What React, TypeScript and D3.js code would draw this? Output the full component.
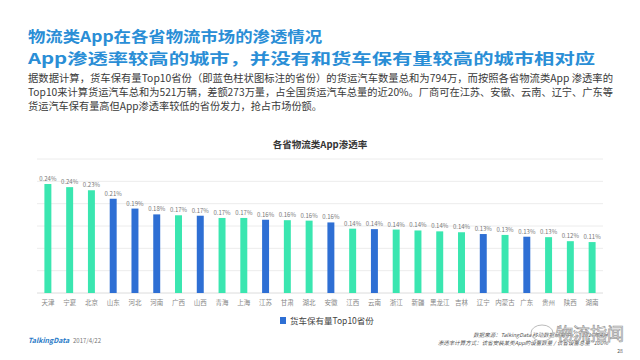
import React from 'react';
import * as d3 from 'd3';

const provinces = ['天津', '宁夏', '北京', '山东', '河北', '河南', '广西', '山西', '青海', '上海', '江苏', '甘肃', '湖北', '安徽',
    '江西', '云南', '浙江', '新疆', '黑龙江', '吉林', '辽宁', '内蒙古', '广东', '贵州', '陕西', '湖南'];
const rates = [0.244, 0.237, 0.230, 0.211, 0.189, 0.176, 0.174, 0.173, 0.168, 0.168, 0.164, 0.163, 0.162, 0.158,
    0.144, 0.143, 0.142, 0.140, 0.138, 0.136, 0.132, 0.130, 0.126, 0.125, 0.116, 0.114];
const top10Provinces = ['山东', '河北', '河南', '山西', '江苏', '安徽', '云南', '辽宁', '广东'];

const titleLines = ['物流类App在各省物流市场的渗透情况', 'App渗透率较高的城市，并没有和货车保有量较高的城市相对应'];
const paragraphLines = [
    '据数据计算，货车保有量Top10省份（即蓝色柱状图标注的省份）的货运汽车数量总和为794万，而按照各省物流类App 渗透率的',
    'Top10来计算货运汽车总和为521万辆，差额273万量，占全国货运汽车总量的近20%。厂商可在江苏、安徽、云南、辽宁、广东等',
    '货运汽车保有量高但App渗透率较低的省份发力，抢占市场份额。'
];
const chartTitle = '各省物流类App渗透率';
const legendLabel = '货车保有量Top10省份';
const sourceLines = ['数据来源：TalkingData 移动数据研究中心，2017年4月', '渗透率计算方式：该省安装某类App的设备数量 / 该省设备总量 *100%'];

const FONT = '"Noto Sans CJK SC", "Noto Sans", sans-serif';
const GREEN = '#3ae6b0';
const BLUE = '#2e6fd4';

const App: React.FC = () => {
    const margin = { left: 37, right: 37, top: 159, bottom: 293 };

    const x = d3.scaleBand<string>()
        .domain(provinces)
        .range([margin.left, 640 - margin.right])
        .paddingInner(0.68)
        .paddingOuter(0.34);

    const y = d3.scaleLinear()
        .domain([0, 0.3])
        .range([margin.bottom, margin.top]);

    const fmt = d3.format('.2f');

    return (
        <svg width={640} height={360} style={{ position: 'absolute', left: 0, top: 0, background: '#fff' }} fontFamily={FONT}>
            {/* titles */}
            <text x={28} y={42} fontSize={15} fontWeight={700} fill="#2a8ed6" textLength={294} lengthAdjust="spacingAndGlyphs">{titleLines[0]}</text>
            <text x={28} y={64} fontSize={15} fontWeight={700} fill="#2a8ed6" textLength={567} lengthAdjust="spacingAndGlyphs">{titleLines[1]}</text>

            {paragraphLines.map((line, i) => (
                <text key={i} x={28} y={82 + i * 14} fontSize={10} fill="#3a3a3a"
                    textLength={i < 2 ? 585 : 294} lengthAdjust="spacingAndGlyphs">{line}</text>
            ))}

            <text x={320} y={148} fontSize={9.5} fontWeight={700} fill="#333" textAnchor="middle">{chartTitle}</text>

            {/* grid */}
            {y.ticks(6).map(t => (
                <line key={t} x1={margin.left} x2={640 - margin.right} y1={y(t)} y2={y(t)}
                    stroke={t === 0 ? '#dcdcdc' : '#ececec'} strokeWidth={1} />
            ))}

            {/* bars */}
            {provinces.map((p, i) => {
                const bx = x(p)!;
                const top = y(rates[i]);
                return (
                    <g key={p}>
                        <rect x={bx} y={top} width={x.bandwidth()} height={y(0) - top}
                            fill={top10Provinces.includes(p) ? BLUE : GREEN} />
                        <text x={bx + x.bandwidth() / 2} y={top - 3} fontSize={6} fill="#777" textAnchor="middle">
                            {fmt(rates[i])}%
                        </text>
                        <text x={bx + x.bandwidth() / 2} y={305} fontSize={6.5} fill="#888" textAnchor="middle">{p}</text>
                    </g>
                );
            })}

            {/* legend */}
            <rect x={280} y={317} width={6} height={7} fill={BLUE} />
            <text x={290} y={324} fontSize={8.5} fill="#444">{legendLabel}</text>

            {/* footer */}
            <text x={28} y={343} fontSize={7} fontWeight={700} fontStyle="italic" fill="#2b7bc8">TalkingData</text>
            <text x={73} y={343} fontSize={6} fill="#777">2017/4/22</text>
            {sourceLines.map((line, i) => (
                <text key={i} x={608} y={337 + i * 8} fontSize={5.5} fontStyle="italic" fill="#555" textAnchor="end">{line}</text>
            ))}
            <text x={620} y={353} fontSize={5} fill="#555" textAnchor="middle">28</text>

            {/* watermark */}
            <ellipse cx={542} cy={333} rx={11} ry={8} fill="none" stroke="#bbb" strokeWidth={1} />
            <text x={556} y={340} fontSize={17} fill="#fff" fillOpacity={0.5} stroke="#999" strokeWidth={0.7}>物流指闻</text>
        </svg>
    );
};

export default App;
